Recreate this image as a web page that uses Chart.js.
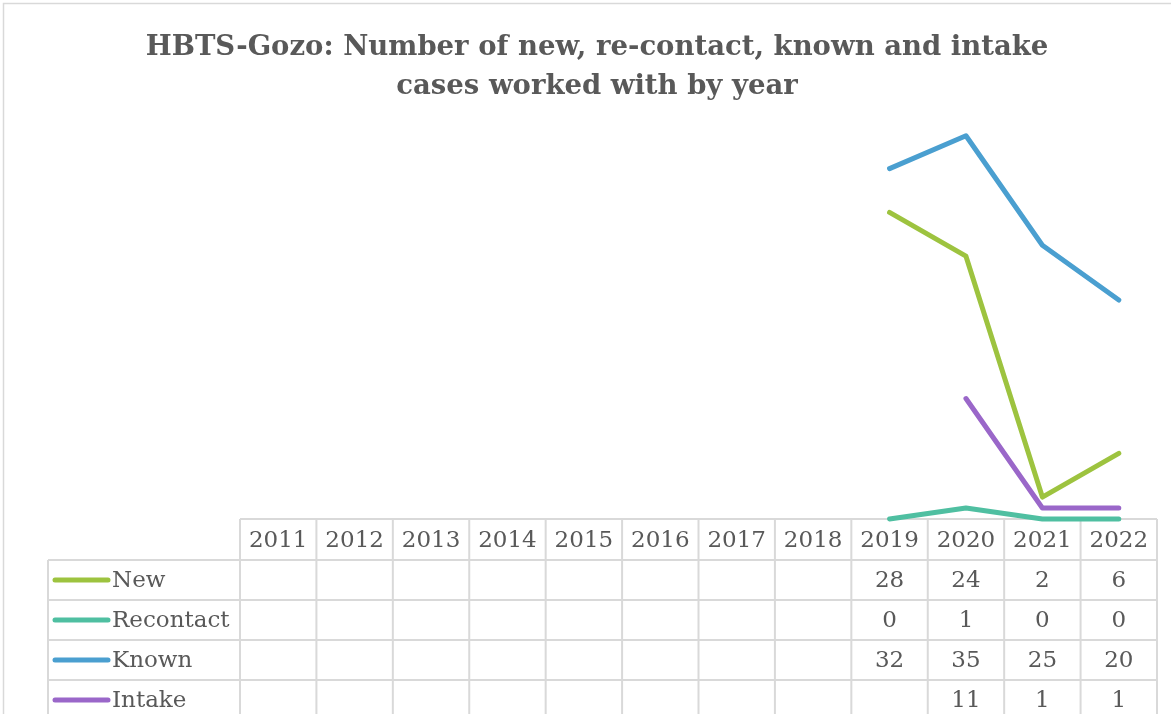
<!DOCTYPE html>
<html>
<head>
<meta charset="utf-8">
<script src="https://cdn.jsdelivr.net/npm/chart.js@4.4.1/dist/chart.umd.min.js"></script>
<style>
  html, body { margin: 0; padding: 0; background: #fff; }
  #wrap { width: 1171px; height: 714px; }
</style>
</head>
<body>
<div id="wrap"><canvas id="chart" width="1171" height="714"></canvas></div>
<script>
// data
const years = ["2011", "2012", "2013", "2014", "2015", "2016", "2017", "2018", "2019", "2020", "2021", "2022"]
const newCases = [null, null, null, null, null, null, null, null, 28, 24, 2, 6]
const recontactCases = [null, null, null, null, null, null, null, null, 0, 1, 0, 0]
const knownCases = [null, null, null, null, null, null, null, null, 32, 35, 25, 20]
const intakeCases = [null, null, null, null, null, null, null, null, null, 11, 1, 1]
const seriesNames = ["New", "Recontact", "Known", "Intake"]
const seriesColors = ["#9dc33f", "#4fbfa1", "#4a9fd0", "#9a67c9"]
const titleLines = ["HBTS-Gozo: Number of new, re-contact, known and intake", "cases worked with by year"]

const textColor = "#595959"
const gridColor = "#d9d9d9"
const serif = "'DejaVu Serif', serif"

// frame, title and the data table under the plot
const tablePlugin = {
  id: "dataTable",
  beforeDatasetsDraw(chart) {
    const ctx = chart.ctx
    const area = chart.chartArea
    const x = chart.scales.x
    const colW = x.getPixelForValue(1) - x.getPixelForValue(0)
    const left = area.left
    const right = area.right
    const top = area.bottom
    const headerH = 41
    const rowH = 40
    const labelLeft = 48
    const bottom = chart.height

    ctx.save()
    // outer frame
    ctx.strokeStyle = gridColor
    ctx.lineWidth = 1.5
    ctx.beginPath()
    ctx.moveTo(3.5, chart.height)
    ctx.lineTo(3.5, 3.5)
    ctx.lineTo(chart.width, 3.5)
    ctx.stroke()

    // title (centred on the original chart frame, a bit right of the crop centre)
    ctx.fillStyle = textColor
    ctx.font = "bold 27.5px " + serif
    ctx.textAlign = "center"
    ctx.textBaseline = "middle"
    titleLines.forEach((line, i) => ctx.fillText(line, 597, 48 + i * 39))

    // grid
    ctx.lineWidth = 2
    ctx.beginPath()
    ctx.moveTo(left, top)
    ctx.lineTo(right, top)
    for (let r = 0; r < seriesNames.length; r++) {
      const y = top + headerH + r * rowH
      ctx.moveTo(labelLeft, y)
      ctx.lineTo(right, y)
    }
    ctx.moveTo(labelLeft, top + headerH)
    ctx.lineTo(labelLeft, bottom)
    for (let i = 0; i <= years.length; i++) {
      const cx = i < years.length ? x.getPixelForValue(i) - colW / 2 : right
      ctx.moveTo(cx, top)
      ctx.lineTo(cx, bottom)
    }
    ctx.stroke()

    // header years
    ctx.font = "23px " + serif
    ctx.fillStyle = textColor
    ctx.textAlign = "center"
    years.forEach((yr, i) => ctx.fillText(yr, x.getPixelForValue(i), top + headerH / 2 + 2))

    // rows
    chart.data.datasets.forEach((ds, r) => {
      const cy = top + headerH + r * rowH + rowH / 2
      ctx.strokeStyle = ds.borderColor
      ctx.lineWidth = 5
      ctx.lineCap = "round"
      ctx.beginPath()
      ctx.moveTo(55, cy)
      ctx.lineTo(108, cy)
      ctx.stroke()

      ctx.textAlign = "left"
      ctx.fillStyle = textColor
      ctx.fillText(ds.label, 112, cy + 1)

      ctx.textAlign = "center"
      ds.data.forEach((v, i) => {
        if (v === null) return
        ctx.fillText(String(v), x.getPixelForValue(i), cy + 1)
      })
    })
    ctx.restore()
  }
}

const allSeries = [newCases, recontactCases, knownCases, intakeCases]

new Chart(document.getElementById("chart"), {
  type: "line",
  data: {
    labels: years,
    datasets: allSeries.map((vals, i) => ({
      label: seriesNames[i],
      data: vals,
      borderColor: seriesColors[i],
      backgroundColor: seriesColors[i],
      borderWidth: 5,
      borderCapStyle: "round",
      borderJoinStyle: "round",
      pointRadius: 0,
      tension: 0,
      spanGaps: false,
      clip: false
    }))
  },
  options: {
    responsive: false,
    animation: false,
    layout: {
      padding: { left: 240, right: 14, top: 81, bottom: 195 }
    },
    plugins: {
      legend: { display: false },
      title: { display: false },
      tooltip: { enabled: false }
    },
    scales: {
      x: { display: false, offset: true },
      y: { display: false, min: 0, max: 40 }
    }
  },
  plugins: [tablePlugin]
})
</script>
</body>
</html>
